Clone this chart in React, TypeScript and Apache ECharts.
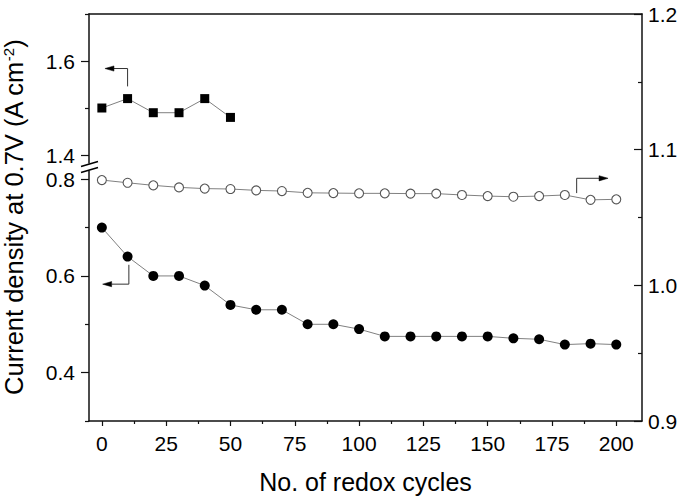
import React, { useEffect, useRef } from "react";
import * as echarts from "echarts";

// ---- data ----
const cycles = [0, 10, 20, 30, 40, 50, 60, 70, 80, 90, 100, 110, 120, 130, 140, 150, 160, 170, 180, 190, 200];
const squareCycles = [0, 10, 20, 30, 40, 50];
const squareValues = [1.5, 1.52, 1.49, 1.49, 1.52, 1.48];
const filledValues = [0.7, 0.64, 0.6, 0.6, 0.58, 0.54, 0.53, 0.53, 0.5, 0.5, 0.49, 0.475, 0.475, 0.475, 0.475, 0.475, 0.471, 0.469, 0.458, 0.46, 0.458];
const openValues = [1.0776, 1.0756, 1.0737, 1.0722, 1.0713, 1.071, 1.07, 1.0695, 1.0682, 1.068, 1.0678, 1.0678, 1.0676, 1.0676, 1.0666, 1.0658, 1.0653, 1.0658, 1.0666, 1.063, 1.0634];

const xMajorTicks = [0, 25, 50, 75, 100, 125, 150, 175, 200];
const xMinorTicks = [12.5, 37.5, 62.5, 87.5, 112.5, 137.5, 162.5, 187.5];
const rightMajorTicks = [0.9, 1.0, 1.1, 1.2];
const rightMinorTicks = [0.95, 1.05, 1.15];
const upperMajorTicks = [1.4, 1.6];
const upperMinorTicks = [1.5, 1.7];
const lowerMajorTicks = [0.4, 0.6, 0.8];
const lowerMinorTicks = [0.3, 0.5, 0.7];

// arrows (data coordinates)
const arrowSquares = [[10, 1.546], [10, 1.584], [1.2, 1.584]];
const arrowFilled = [[10.5, 0.623], [10.5, 0.583], [0.3, 0.583]];
const arrowOpen = [[184.6, 1.068], [184.6, 1.0789], [196.8, 1.0789]];

const X_MIN = -5;
const X_MAX = 210;
const UPPER_MIN = 1.383;
const UPPER_MAX = 1.7;
const LOWER_MIN = 0.3;
const LOWER_MAX = 0.817;
const RIGHT_MIN = 0.9;
const RIGHT_MAX = 1.2;

const FONT = "'Liberation Sans', Arial, sans-serif";
const AXIS_COLOR = "#111";
const LINE_W = 1.5;
const TICK_FONT = 21;

export default function App() {
  const ref = useRef<HTMLDivElement>(null);

  useEffect(() => {
    document.body.style.margin = "0";
    if (!ref.current) return;
    const chart = echarts.init(ref.current, null, { renderer: "svg" });

    const hiddenX = (gridIndex: number) => ({
      type: "value",
      gridIndex,
      min: X_MIN,
      max: X_MAX,
      show: false,
    });

    const gridPos = { left: 89, right: 44, containLabel: false, outerBoundsMode: "none" };

    const option: any = {
      animation: false,
      textStyle: { fontFamily: FONT },
      grid: [
        { ...gridPos, top: 14, bottom: 82 },
        { ...gridPos, top: 14, height: 149 },
        { ...gridPos, top: 171, bottom: 82 },
      ],
      xAxis: [
        {
          type: "value",
          gridIndex: 0,
          position: "bottom",
          min: X_MIN,
          max: X_MAX,
          axisLine: { onZero: false, lineStyle: { color: AXIS_COLOR, width: LINE_W } },
          axisTick: { length: 5, customValues: xMajorTicks, lineStyle: { color: AXIS_COLOR, width: 1.2 } },
          axisLabel: {
            customValues: xMajorTicks,
            fontSize: TICK_FONT,
            color: "#000",
            margin: 12,
            fontFamily: FONT,
            formatter: (v: number) => String(v),
          },
          splitLine: { show: false },
          name: "No. of redox cycles",
          nameLocation: "middle",
          nameGap: 48,
          nameTextStyle: { fontSize: 25, color: "#000", fontFamily: FONT },
        },
        {
          type: "value",
          gridIndex: 0,
          position: "bottom",
          min: X_MIN,
          max: X_MAX,
          axisLine: { show: false, onZero: false },
          axisTick: { length: 3, customValues: xMinorTicks, lineStyle: { color: AXIS_COLOR, width: 1.2 } },
          axisLabel: { show: false },
          splitLine: { show: false },
        },
        {
          type: "value",
          gridIndex: 0,
          position: "top",
          min: X_MIN,
          max: X_MAX,
          axisLine: { onZero: false, lineStyle: { color: AXIS_COLOR, width: LINE_W } },
          axisTick: { show: false },
          axisLabel: { show: false },
          splitLine: { show: false },
        },
        hiddenX(1),
        hiddenX(2),
      ],
      yAxis: [
        {
          type: "value",
          gridIndex: 0,
          position: "right",
          min: RIGHT_MIN,
          max: RIGHT_MAX,
          axisLine: { show: true, onZero: false, lineStyle: { color: AXIS_COLOR, width: LINE_W } },
          axisTick: { inside: true, length: 8, customValues: rightMajorTicks, lineStyle: { color: AXIS_COLOR, width: 1.2 } },
          axisLabel: {
            customValues: rightMajorTicks,
            fontSize: TICK_FONT,
            color: "#000",
            margin: 6,
            fontFamily: FONT,
            formatter: (v: number) => v.toFixed(1),
          },
          splitLine: { show: false },
        },
        {
          type: "value",
          gridIndex: 0,
          position: "right",
          min: RIGHT_MIN,
          max: RIGHT_MAX,
          axisLine: { show: false, onZero: false },
          axisTick: { inside: true, length: 4, customValues: rightMinorTicks, lineStyle: { color: AXIS_COLOR, width: 1.2 } },
          axisLabel: { show: false },
          splitLine: { show: false },
        },
        {
          type: "value",
          gridIndex: 0,
          position: "left",
          min: RIGHT_MIN,
          max: RIGHT_MAX,
          axisLine: { show: false, onZero: false },
          axisTick: { show: false },
          axisLabel: { show: false },
          splitLine: { show: false },
          name: "Current density at 0.7V (A cm{sup|-2})",
          nameLocation: "middle",
          nameGap: 62,
          nameTextStyle: {
            fontSize: 25.5,
            color: "#000",
            fontFamily: FONT,
            rich: {
              sup: { fontSize: 15, verticalAlign: "top", color: "#000", fontFamily: FONT },
            },
          },
        },
        {
          type: "value",
          gridIndex: 1,
          position: "left",
          min: UPPER_MIN,
          max: UPPER_MAX,
          axisLine: { show: true, onZero: false, lineStyle: { color: AXIS_COLOR, width: LINE_W } },
          axisTick: { length: 8, customValues: upperMajorTicks, lineStyle: { color: AXIS_COLOR, width: 1.2 } },
          axisLabel: {
            customValues: upperMajorTicks,
            fontSize: TICK_FONT,
            color: "#000",
            margin: 14,
            fontFamily: FONT,
            formatter: (v: number) => v.toFixed(1),
          },
          splitLine: { show: false },
        },
        {
          type: "value",
          gridIndex: 1,
          position: "left",
          min: UPPER_MIN,
          max: UPPER_MAX,
          axisLine: { show: false, onZero: false },
          axisTick: { length: 4, customValues: upperMinorTicks, lineStyle: { color: AXIS_COLOR, width: 1.2 } },
          axisLabel: { show: false },
          splitLine: { show: false },
        },
        {
          type: "value",
          gridIndex: 2,
          position: "left",
          min: LOWER_MIN,
          max: LOWER_MAX,
          axisLine: { show: true, onZero: false, lineStyle: { color: AXIS_COLOR, width: LINE_W } },
          axisTick: { length: 8, customValues: lowerMajorTicks, lineStyle: { color: AXIS_COLOR, width: 1.2 } },
          axisLabel: {
            customValues: lowerMajorTicks,
            fontSize: TICK_FONT,
            color: "#000",
            margin: 14,
            fontFamily: FONT,
            formatter: (v: number) => v.toFixed(1),
          },
          splitLine: { show: false },
        },
        {
          type: "value",
          gridIndex: 2,
          position: "left",
          min: LOWER_MIN,
          max: LOWER_MAX,
          axisLine: { show: false, onZero: false },
          axisTick: { length: 4, customValues: lowerMinorTicks, lineStyle: { color: AXIS_COLOR, width: 1.2 } },
          axisLabel: { show: false },
          splitLine: { show: false },
        },
      ],
      series: [
        {
          type: "line",
          name: "open",
          xAxisIndex: 0,
          yAxisIndex: 0,
          data: cycles.map((c, i) => [c, openValues[i]]),
          symbol: "circle",
          symbolSize: 9,
          lineStyle: { color: "#808080", width: 1 },
          itemStyle: { color: "#fff", borderColor: "#555", borderWidth: 1.1 },
          z: 3,
        },
        {
          type: "line",
          name: "filled",
          xAxisIndex: 4,
          yAxisIndex: 5,
          data: cycles.map((c, i) => [c, filledValues[i]]),
          symbol: "circle",
          symbolSize: 10,
          lineStyle: { color: "#808080", width: 1 },
          itemStyle: { color: "#000" },
          z: 3,
        },
        {
          type: "line",
          name: "squares",
          xAxisIndex: 3,
          yAxisIndex: 3,
          data: squareCycles.map((c, i) => [c, squareValues[i]]),
          symbol: "rect",
          symbolSize: 9,
          lineStyle: { color: "#808080", width: 1 },
          itemStyle: { color: "#000" },
          z: 3,
        },
      ],
    };

    chart.setOption(option);

    const px = (seriesIndex: number, p: number[]) =>
      chart.convertToPixel({ seriesIndex }, p) as number[];

    const arrowGraphic = (seriesIndex: number, pts: number[][]) => {
      const pix = pts.map((p) => px(seriesIndex, p));
      const a = pix[pix.length - 2];
      const b = pix[pix.length - 1];
      const dx = b[0] - a[0];
      const dy = b[1] - a[1];
      const len = Math.sqrt(dx * dx + dy * dy) || 1;
      const ux = dx / len;
      const uy = dy / len;
      const headLen = 9;
      const headW = 2.6;
      const base = [b[0] - ux * headLen, b[1] - uy * headLen];
      const shaft = pix.slice(0, -1).concat([base]);
      return [
        {
          type: "polyline",
          silent: true,
          z: 10,
          shape: { points: shaft },
          style: { stroke: "#333", lineWidth: 1, fill: null },
        },
        {
          type: "polygon",
          silent: true,
          z: 10,
          shape: {
            points: [
              b,
              [base[0] - uy * headW, base[1] + ux * headW],
              [base[0] + uy * headW, base[1] - ux * headW],
            ],
          },
          style: { fill: "#000", stroke: "#000", lineWidth: 0.5 },
        },
      ];
    };

    const upperEnd = px(2, [X_MIN, UPPER_MIN]);
    const lowerEnd = px(1, [X_MIN, LOWER_MAX]);
    const slash = (p: number[]) => ({
      type: "line",
      silent: true,
      z: 10,
      shape: { x1: p[0] - 8, y1: p[1] + 2.5, x2: p[0] + 9, y2: p[1] - 2.5 },
      style: { stroke: "#000", lineWidth: 1.5 },
    });

    chart.setOption({
      graphic: [
        ...arrowGraphic(2, arrowSquares),
        ...arrowGraphic(1, arrowFilled),
        ...arrowGraphic(0, arrowOpen),
        slash([upperEnd[0], upperEnd[1] + 1]),
        slash([lowerEnd[0], lowerEnd[1] - 1]),
      ],
    });

    return () => chart.dispose();
  }, []);

  return <div ref={ref} style={{ width: 686, height: 503 }} />;
}
